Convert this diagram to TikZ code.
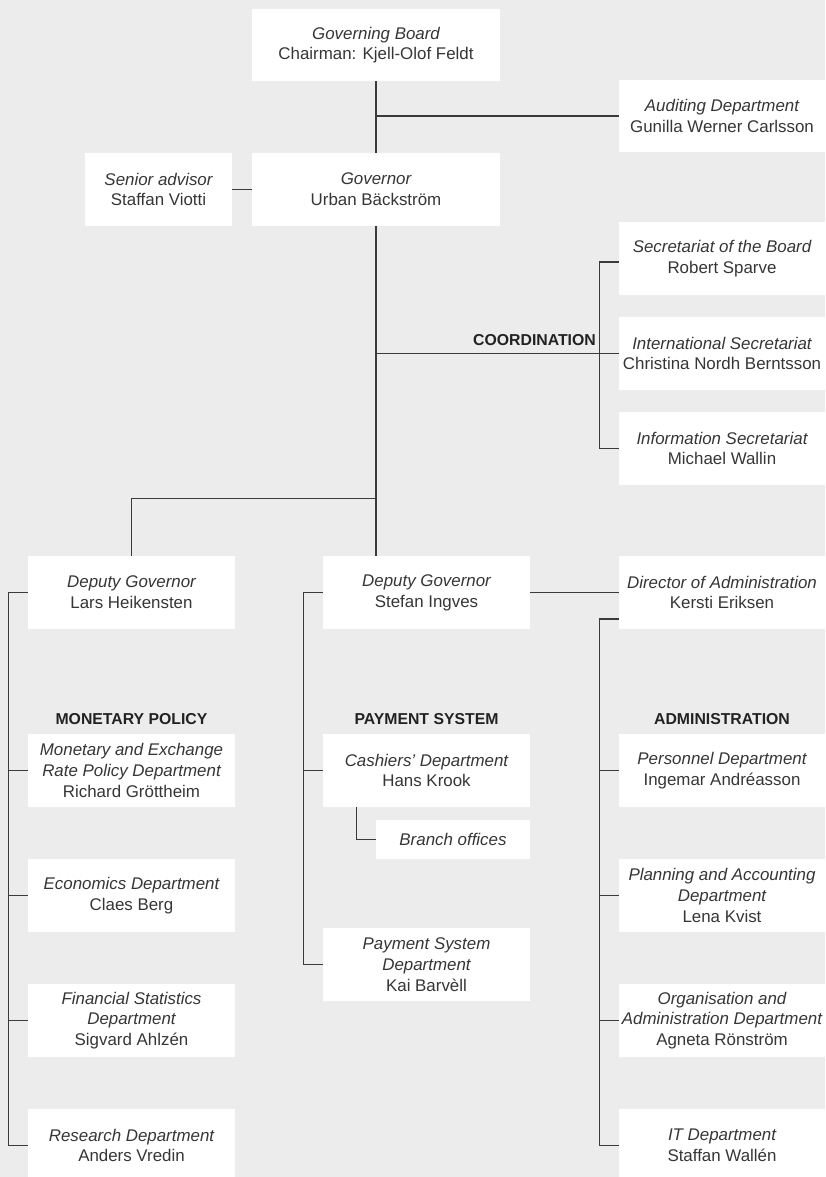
\documentclass[tikz,border=0pt]{standalone}
\usepackage{fontspec}
\setmainfont{Liberation Sans}
\definecolor{bg}{HTML}{ECECEC}
\definecolor{txt}{HTML}{363636}
\definecolor{ttl}{HTML}{222222}
\definecolor{ln}{HTML}{3A3A3A}
\newcommand{\ti}[1]{{\itshape #1}}
\begin{document}
\begin{tikzpicture}[x=1pt,y=-1pt,
  bx/.style={fill=white, draw=none, inner sep=0pt, align=center, text=txt,
     font=\fontsize{16.9}{20.7}\selectfont, minimum width=207pt, minimum height=73pt},
  lbl/.style={inner sep=0pt, text=ttl, font=\fontsize{15.8}{18}\selectfont\bfseries},
  conn/.style={draw=ln, line width=1.2pt}
]
\useasboundingbox (0,0) rectangle (825,1177);
\clip (0,0) rectangle (825,1177);
\fill[bg] (0,0) rectangle (825,1177);

% top
\node[bx, minimum width=248pt, minimum height=72pt] (board) at (376,45) {\ti{Governing Board}\\Chairman: Kjell-Olof Feldt};
\node[bx, minimum width=248pt] (governor) at (376,189.5) {\ti{Governor}\\Urban Bäckström};
\node[bx, minimum width=147pt] (senior) at (158.5,189.5) {\ti{Senior advisor}\\Staffan Viotti};
\node[bx, minimum width=206pt, minimum height=72pt] (audit) at (722,116) {\ti{Auditing Department}\\Gunilla Werner Carlsson};

% coordination
\node[bx, minimum width=206pt] (secboard) at (722,258.5) {\ti{Secretariat of the Board}\\Robert Sparve};
\node[bx, minimum width=206pt] (intsec) at (722,353.5) {\ti{International Secretariat}\\Christina Nordh Berntsson};
\node[bx, minimum width=206pt] (infosec) at (722,448.5) {\ti{Information Secretariat}\\Michael Wallin};
\node[lbl, anchor=base east] (coord) at (596,345) {COORDINATION};

% deputies
\node[bx] (lars) at (131.5,592.5) {\ti{Deputy Governor}\\Lars Heikensten};
\node[bx] (stefan) at (426.5,592.5) {\ti{Deputy Governor}\\Stefan Ingves};
\node[bx, minimum width=206pt] (director) at (722,592.5) {\ti{Director of Administration}\\Kersti Eriksen};

% section labels
\node[lbl, anchor=base] (mp) at (131.5,724) {MONETARY POLICY};
\node[lbl, anchor=base] (ps) at (426.5,724) {PAYMENT SYSTEM};
\node[lbl, anchor=base] (adm) at (722,724) {ADMINISTRATION};

% monetary policy
\node[bx] (monex) at (131.5,770.5) {\ti{Monetary and Exchange}\\\ti{Rate Policy Department}\\Richard Gröttheim};
\node[bx] (econ) at (131.5,895.5) {\ti{Economics Department}\\Claes Berg};
\node[bx] (finstat) at (131.5,1020.5) {\ti{Financial Statistics}\\\ti{Department}\\Sigvard Ahlzén};
\node[bx] (research) at (131.5,1145.5) {\ti{Research Department}\\Anders Vredin};

% payment system
\node[bx] (cashiers) at (426.5,770.5) {\ti{Cashiers’ Department}\\Hans Krook};
\node[bx, minimum width=154pt, minimum height=39pt] (branch) at (453,839.5) {\ti{Branch offices}};
\node[bx] (paydept) at (426.5,964.5) {\ti{Payment System}\\\ti{Department}\\Kai Barvèll};

% administration
\node[bx, minimum width=206pt] (personnel) at (722,770.5) {\ti{Personnel Department}\\Ingemar Andréasson};
\node[bx, minimum width=206pt] (planning) at (722,895.5) {\ti{Planning and Accounting}\\\ti{Department}\\Lena Kvist};
\node[bx, minimum width=206pt] (org) at (722,1020.5) {\ti{Organisation and}\\\ti{Administration Department}\\Agneta Rönström};
\node[bx, minimum width=206pt] (it) at (722,1145.5) {\ti{IT Department}\\Staffan Wallén};

% connectors: top
\draw[conn] (board.south) -- (governor.north);
\draw[conn] (board.south |- audit.west) -- (audit.west);
\draw[conn] (senior.east) -- (governor.west);
\draw[conn] (governor.south) -- (governor.south |- stefan.north);
\draw[conn] (lars.north) -- ++(0,-57) -| (governor.south);

% coordination
\draw[conn] (governor.south |- intsec.west) -- (intsec.west);
\draw[conn] ([yshift=-3.5pt]secboard.west) -- ++(-19,0) |- (infosec.west);

% deputies
\draw[conn] (stefan.east) -- (director.west);

% monetary bracket
\draw[conn] (lars.west) -- ++(-19,0) |- (research.west);
\draw[conn] (monex.west) -- ++(-19,0);
\draw[conn] (econ.west) -- ++(-19,0);
\draw[conn] (finstat.west) -- ++(-19,0);

% payment bracket
\draw[conn] (stefan.west) -- ++(-19,0) |- (paydept.west);
\draw[conn] (cashiers.west) -- ++(-19,0);
\draw[conn] ([xshift=-70pt]cashiers.south) |- (branch.west);

% administration bracket
\draw[conn] ([yshift=-26.5pt]director.west) -- ++(-19,0) |- (it.west);
\draw[conn] (personnel.west) -- ++(-19,0);
\draw[conn] (planning.west) -- ++(-19,0);
\draw[conn] (org.west) -- ++(-19,0);
\end{tikzpicture}
\end{document}
